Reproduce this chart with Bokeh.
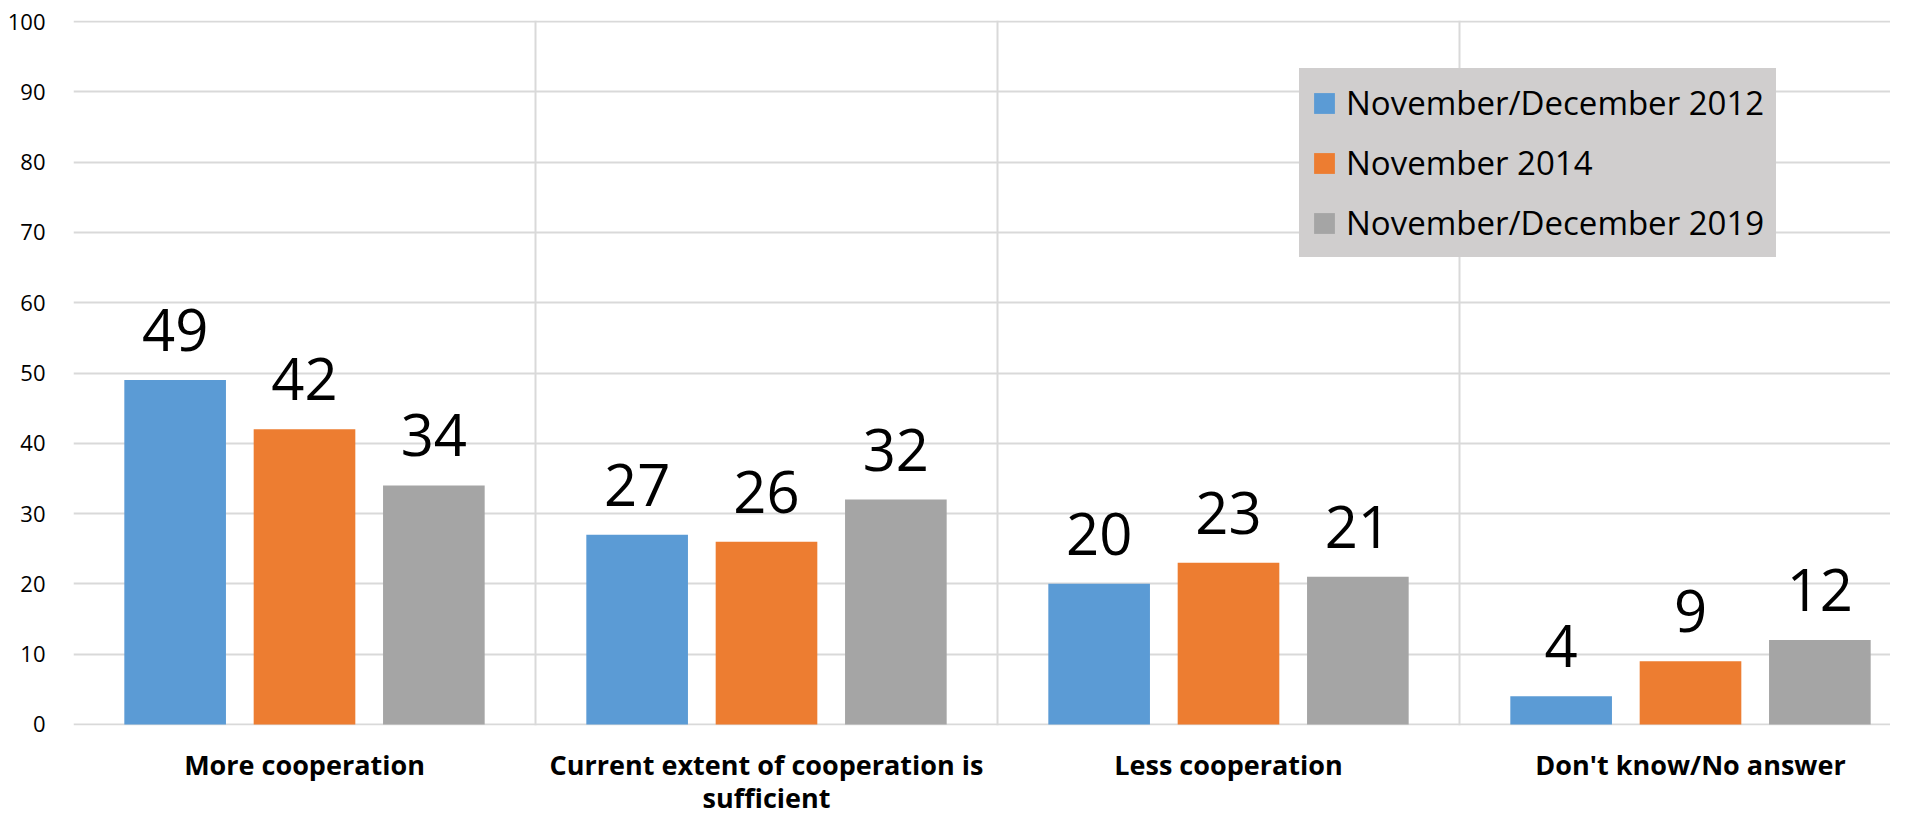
from bokeh.plotting import figure
from bokeh.models import Range1d, FixedTicker, Legend, LegendItem, ColumnDataSource
from bokeh.embed import file_html
from bokeh.resources import INLINE
from bokeh.core.properties import value

# ---- data ----
categories = [
    "More cooperation",
    "Current extent of cooperation is\nsufficient",
    "Less cooperation",
    "Don't know/No answer",
]
series_names = ["November/December 2012", "November 2014", "November/December 2019"]
values_2012 = [49, 27, 20, 4]
values_2014 = [42, 26, 23, 9]
values_2019 = [34, 32, 21, 12]
y_ticks = [0, 10, 20, 30, 40, 50, 60, 70, 80, 90, 100]

# ---- style ----
colors = ["#5B9BD5", "#ED7D31", "#A5A5A5"]
offsets = [-0.28, 0.0, 0.28]
bar_width = 0.22
FONT = "Open Sans"
grid_color = "#D9D9D9"
legend_bg = "#D0CECE"
FW = 1817

p = figure(
    frame_width=FW, frame_height=705,
    width=1890, height=801,
    x_range=Range1d(0, FW / 462),
    y_range=Range1d(-0.15, 100.15),
    output_backend="svg", toolbar_location=None,
    min_border_left=73, min_border_top=20, min_border_right=0, min_border_bottom=60,
    background_fill_color="white", border_fill_color="white",
)
p.outline_line_color = None

series = [values_2012, values_2014, values_2019]
items = []
for k, vals in enumerate(series):
    xs = [i + 0.5 + offsets[k] for i in range(len(categories))]
    src = ColumnDataSource(dict(x=xs, top=vals, label=[str(v) for v in vals]))
    r = p.vbar(x="x", top="top", width=bar_width, bottom=0, source=src,
               fill_color=colors[k], line_color=None)
    items.append(LegendItem(label=series_names[k], renderers=[r]))
    p.text(x="x", y="top", text="label", source=src, text_align="center",
           text_baseline="alphabetic", y_offset=-50, text_font_size="58px",
           text_font=value(FONT), text_color="black")

# axes
p.xaxis.ticker = FixedTicker(ticks=[i + 0.5 for i in range(len(categories))])
p.xaxis.major_label_overrides = {i + 0.5: c for i, c in enumerate(categories)}
p.xaxis.major_label_text_font = FONT
p.xaxis.major_label_text_font_style = "bold"
p.xaxis.major_label_text_font_size = "27px"
p.xaxis.major_label_text_line_height = 0.9
p.xaxis.major_label_text_color = "black"
p.xaxis.major_label_standoff = 14
p.xaxis.axis_line_color = None
p.xaxis.major_tick_line_color = None
p.xaxis.minor_tick_line_color = None

p.yaxis.ticker = FixedTicker(ticks=y_ticks)
p.yaxis.major_label_text_font = FONT
p.yaxis.major_label_text_font_size = "22px"
p.yaxis.major_label_text_color = "black"
p.yaxis.major_label_standoff = 22
p.yaxis.axis_line_color = None
p.yaxis.major_tick_line_color = None
p.yaxis.minor_tick_line_color = None

# grid
p.xgrid.ticker = FixedTicker(ticks=list(range(len(categories) + 1)))
p.xgrid.grid_line_color = grid_color
p.xgrid.grid_line_width = 2
p.ygrid.grid_line_color = grid_color
p.ygrid.grid_line_width = 2

legend = Legend(
    items=items, location=(1226, 468),
    background_fill_color=legend_bg, background_fill_alpha=1.0,
    border_line_color=legend_bg, border_line_width=1,
    label_text_font=FONT, label_text_font_size="33px", label_text_color="black",
    glyph_width=26, glyph_height=26, label_standoff=9,
    label_height=37, padding=11, spacing=15, margin=0,
)
p.add_layout(legend)

open("out.html", "w").write(file_html(p, INLINE))
